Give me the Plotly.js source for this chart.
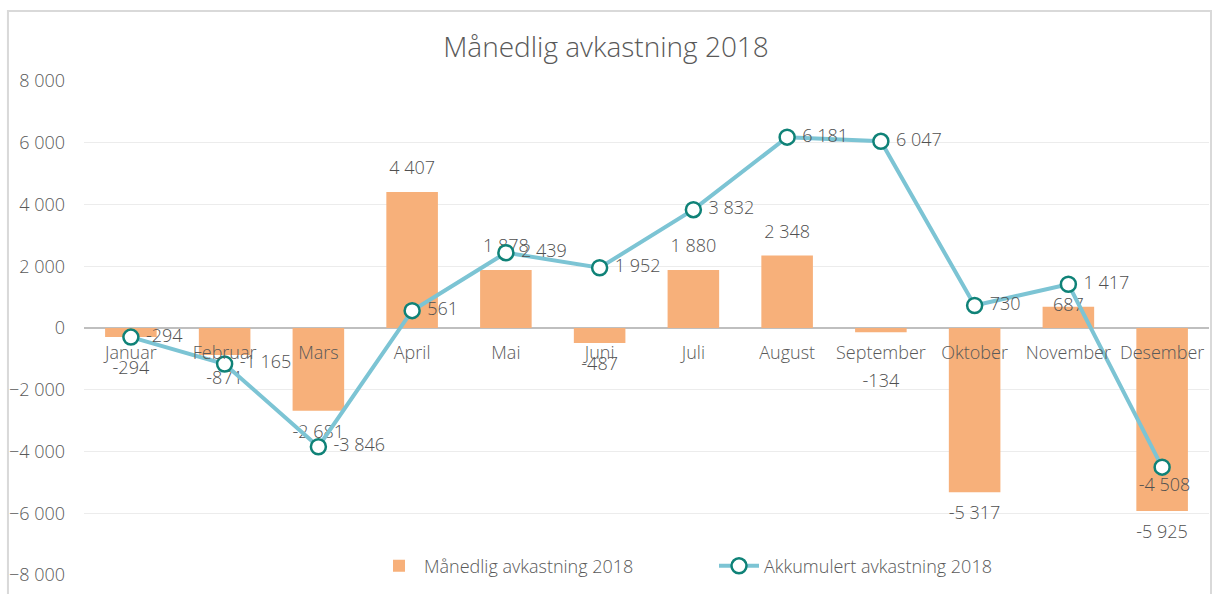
<!DOCTYPE html>
<html>
<head>
<meta charset="utf-8">
<script src="https://cdn.plot.ly/plotly-3.0.1.min.js"></script>
<style>html,body{margin:0;padding:0;background:#fff;}#chart{width:1212px;height:594px;}</style>
</head>
<body>
<div id="chart"></div>
<script>
const months = ["Januar","Februar","Mars","April","Mai","Juni","Juli","August","September","Oktober","November","Desember"];
const monthly = [-294, -871, -2681, 4407, 1878, -487, 1880, 2348, -134, -5317, 687, -5925];
const cumulative = [-294, -1165, -3846, 561, 2439, 1952, 3832, 6181, 6047, 730, 1417, -4508];
const tickVals = [-8000, -6000, -4000, -2000, 0, 2000, 4000, 6000, 8000];

const FONT = "'Open Sans', Lato, sans-serif";
const GRAY = "#595959";
const LABEL = "#505050";

// label placement (style only): above positive bars, below negative bars
const barLabelPos = monthly.map((v, i) => i === 10 ? "middle center" : (v >= 0 ? "top center" : "bottom center"));
const barLabelGap = months.map((m, i) => i === 0 ? 36 : (i === 1 ? 24 : (i === 8 ? 64 : 20)));
const lineLabelPos = cumulative.map((v, i) => i === 11 ? "bottom center" : "middle right");

const traces = [
  {
    type: "bar",
    name: "Månedlig avkastning 2018",
    x: months,
    y: monthly,
    marker: {color: "#F7B07A"},
    width: 0.55,
    hoverinfo: "x+y"
  },
  {
    type: "scatter",
    mode: "markers+text",
    showlegend: false,
    x: months,
    y: monthly,
    marker: {size: barLabelGap, color: "rgba(0,0,0,0)", line: {width: 0, color: "rgba(0,0,0,0)"}},
    texttemplate: "%{y:,}",
    textposition: barLabelPos,
    cliponaxis: false,
    textfont: {family: FONT, size: 18, color: LABEL, weight: 300},
    hoverinfo: "skip"
  },
  {
    type: "scatter",
    mode: "lines+markers+text",
    name: "Akkumulert avkastning 2018",
    x: months,
    y: cumulative,
    line: {color: "#7CC4D4", width: 4},
    marker: {symbol: "circle", size: 15, color: "#ffffff", line: {color: "#0F8277", width: 2.5}},
    texttemplate: "\u00a0%{y:,}",
    textposition: lineLabelPos,
    cliponaxis: false,
    textfont: {family: FONT, size: 18, color: LABEL, weight: 300}
  }
];

const layout = {
  width: 1212,
  height: 594,
  margin: {l: 84, r: 3, t: 81, b: 19},
  paper_bgcolor: "#ffffff",
  plot_bgcolor: "#ffffff",
  separators: ", ",
  font: {family: FONT, color: GRAY, weight: 300},
  title: {
    text: "Månedlig avkastning 2018",
    font: {family: FONT, size: 28, color: GRAY, weight: 300},
    x: 0.5, xanchor: "center",
    y: 0.92, yanchor: "middle"
  },
  showlegend: true,
  legend: {
    orientation: "h",
    x: 0.56, xanchor: "center",
    y: 0.018, yanchor: "middle",
    bgcolor: "rgba(255,255,255,1)",
    font: {family: FONT, size: 18, color: GRAY, weight: 300},
    entrywidth: 285,
    entrywidthmode: "pixels",
    itemwidth: 40
  },
  xaxis: {
    type: "category",
    anchor: "free",
    position: 0.5,
    showgrid: false,
    showline: false,
    zeroline: false,
    ticks: "",
    ticklabelstandoff: 12,
    tickfont: {family: FONT, size: 18, color: GRAY, weight: 300},
    range: [-0.5, 11.5],
    fixedrange: true
  },
  yaxis: {
    range: [-8000, 8000],
    tickvals: tickVals,
    tickformat: ",",
    showgrid: true,
    gridcolor: "#ECECEC",
    gridwidth: 1,
    zeroline: true,
    zerolinecolor: "#BFBFBF",
    zerolinewidth: 2,
    showline: false,
    ticks: "",
    ticklabelstandoff: 18,
    tickfont: {family: FONT, size: 18, color: GRAY, weight: 300},
    fixedrange: true
  },
  shapes: [
    {type: "rect", xref: "paper", yref: "paper", x0: -0.0676, x1: 1.0018, y0: -0.05, y1: 1.1417,
     line: {color: "#D9D9D9", width: 2}, fillcolor: "rgba(0,0,0,0)", layer: "below"}
  ]
};

Plotly.newPlot("chart", traces, layout, {displayModeBar: false, staticPlot: true});
</script>
</body>
</html>
